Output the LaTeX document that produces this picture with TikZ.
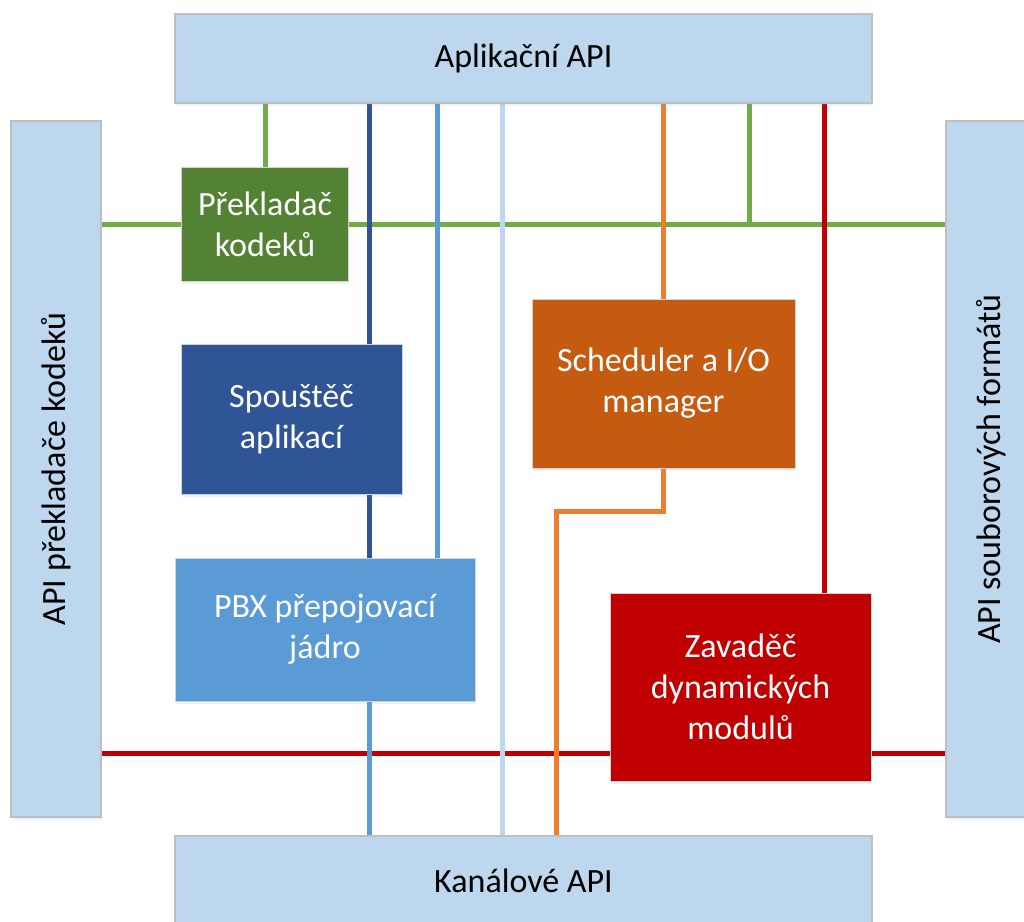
\documentclass[tikz,border=0pt]{standalone}
\usepackage{fontspec}
\setmainfont{Carlito}
\usetikzlibrary{backgrounds,shadows}

\definecolor{apiBlue}{HTML}{BDD7EE}
\definecolor{apiEdge}{HTML}{BFBFBF}
\definecolor{codecGreen}{HTML}{548235}
\definecolor{codecLine}{HTML}{70AD47}
\definecolor{spawnBlue}{HTML}{2F5597}
\definecolor{pbxBlue}{HTML}{5B9BD5}
\definecolor{schedOrange}{HTML}{C55A11}
\definecolor{schedLine}{HTML}{ED7D31}
\definecolor{loaderRed}{HTML}{C00000}

\tikzset{
  bigtext/.style={font=\fontsize{34}{41}\selectfont},
  bar/.style={rectangle, fill=apiBlue, draw=apiEdge, line width=1.2pt, bigtext,
    drop shadow={shadow xshift=0.5pt, shadow yshift=-3pt, opacity=0.12, fill=pbxBlue}},
  block/.style={rectangle, draw=apiEdge!70, line width=0.8pt, text=white, align=center, bigtext,
    drop shadow={shadow xshift=0.5pt, shadow yshift=-3pt, opacity=0.12, fill=pbxBlue}},
  wire/.style={line width=5pt, line cap=round},
}

\begin{document}
\begin{tikzpicture}[x=1pt, y=-1pt]
  \useasboundingbox (0,0) rectangle (1024,921);

  % API bars round the edge
  \node[bar, minimum width=697, minimum height=89] (apiApp) at (523.5,58.5) {Aplikační API};
  \node[bar, minimum width=697, minimum height=89] (apiChan) at (523.5,880.5) {Kanálové API};
  \node[bar, minimum width=90, minimum height=696] (apiCodec) at (56,469) {};
  \node[bigtext, rotate=90] (apiCodecText) at (apiCodec) {API překladače kodeků};
  \node[bar, minimum width=91, minimum height=696] (apiFmt) at (991.5,469) {};
  \node[bigtext, rotate=90] (apiFmtText) at (apiFmt) {API souborových formátů};

  % core blocks
  \node[block, fill=codecGreen, minimum width=167, minimum height=114] (codec) at (265,224) {Překladač\\kodeků};
  \node[block, fill=spawnBlue, minimum width=221, minimum height=150] (spawn) at (291.5,419) {Spouštěč\\aplikací};
  \node[block, fill=pbxBlue, minimum width=300, minimum height=143] (pbx) at (325,629.5) {PBX přepojovací\\jádro};
  \node[block, fill=schedOrange, minimum width=263, minimum height=169] (sched) at (663.5,383.5) {Scheduler a I/O\\manager};
  \node[block, fill=loaderRed, minimum width=261, minimum height=188] (loader) at (740.5,687) {Zavaděč\\dynamických\\modulů};

  % bus positions
  \coordinate (xSpawn) at (369,0);
  \coordinate (xPbx) at (437,0);
  \coordinate (xCore) at (502,0);
  \coordinate (xCodec) at (749,0);
  \coordinate (xLoad) at (824,0);
  \coordinate (yLoad) at (0,753);
  \coordinate (bend) at (556,511);

  \begin{scope}[on background layer]
    % horizontal buses, the verticals go over them
    \draw[wire, codecLine] (apiCodec.east |- codec) -- (apiFmt.west |- codec);
    \draw[wire, loaderRed] (apiCodec.east |- yLoad) -- (apiFmt.west |- yLoad);

    \draw[wire, codecLine] (codec.north) -- (codec.north |- apiApp.south);
    \draw[wire, codecLine] (xCodec |- codec) -- (xCodec |- apiApp.south);
    \draw[wire, spawnBlue] (xSpawn |- apiApp.south) -- (xSpawn |- pbx.north);
    \draw[wire, pbxBlue] (xPbx |- apiApp.south) -- (xPbx |- pbx.north);
    \draw[wire, pbxBlue] (xSpawn |- pbx.south) -- (xSpawn |- apiChan.north);
    \draw[wire, apiBlue] (xCore |- apiApp.south) -- (xCore |- apiChan.north);
    \draw[wire, schedLine] (sched.north |- apiApp.south) -- (sched.north);
    \draw[wire, schedLine] (sched.south) |- (bend) -- (bend |- apiChan.north);
    \draw[wire, loaderRed] (xLoad |- apiApp.south) -- (xLoad |- loader.north);
  \end{scope}
\end{tikzpicture}
\end{document}
